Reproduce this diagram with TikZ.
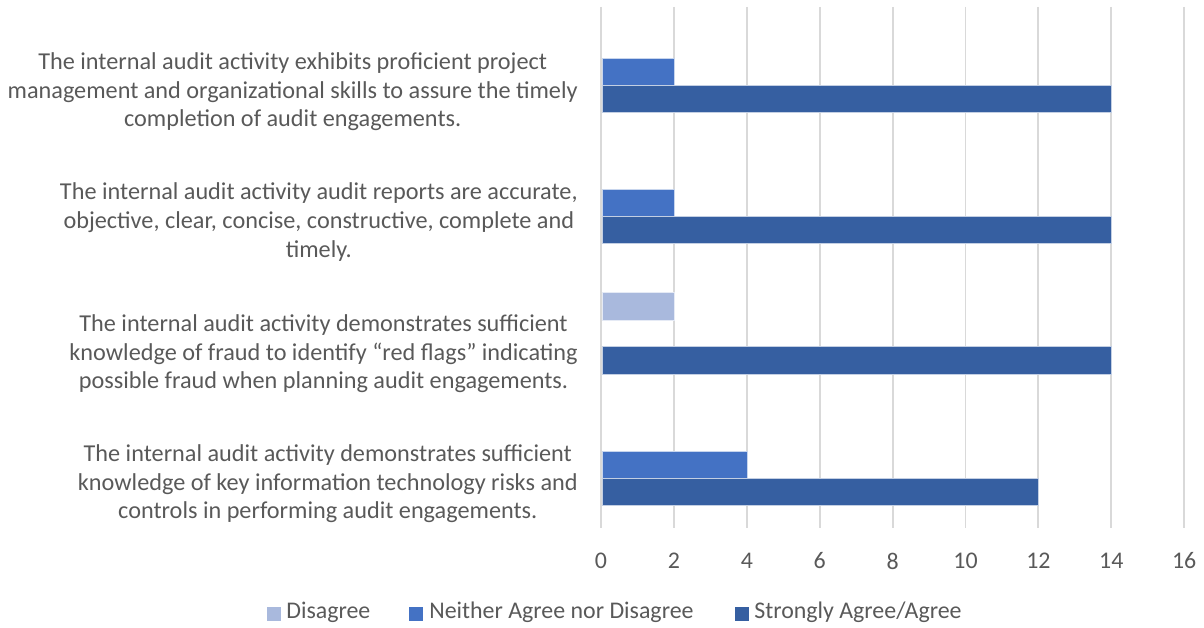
\documentclass[tikz,border=0pt]{standalone}
\usepackage{fontspec}
\setmainfont{Carlito}
\definecolor{txtgray}{HTML}{595959}
\definecolor{gridgray}{HTML}{D9D9D9}
\definecolor{disagreeblue}{HTML}{A9B9DD}
\definecolor{neitherblue}{HTML}{4472C4}
\definecolor{agreeblue}{HTML}{365FA1}
\begin{document}
\begin{tikzpicture}
		[	x=0.02cm, y=-0.02cm,
		grid/.style={draw=gridgray, line width=1.1pt},
		bar/.style={draw=white!70!#1, line width=0.4pt, fill=#1},
		tick/.style={text=txtgray, font=\fontsize{13.6}{16}\selectfont, inner sep=0pt},
		label/.style={text=txtgray, align=center, anchor=east, inner sep=0pt,
			font=\fontsize{13.8}{16.3}\selectfont},
		key/.style={fill=#1, minimum size=0.28cm, inner sep=0pt},
		keytext/.style={text=txtgray, anchor=west, inner sep=0pt, font=\fontsize{13.6}{16}\selectfont}
		]
		\useasboundingbox (0,0) rectangle (1204,628);

		% gridlines and tick values
		\foreach \v [count=\i from 0] in {0,2,...,16} {
			\draw[grid] (601+72.9*\i,7) -- (601+72.9*\i,528);
			\node[tick] (tick\v) at (601+72.9*\i,561) {\v};
		}

		% bars
		\draw[bar=neitherblue] (602,58) rectangle (674,85);
		\draw[bar=agreeblue] (602,85) rectangle (1111,112);

		\draw[bar=neitherblue] (602,189) rectangle (674,216);
		\draw[bar=agreeblue] (602,216) rectangle (1111,243);

		\draw[bar=disagreeblue] (602,292) rectangle (674,320);
		\draw[bar=agreeblue] (602,346) rectangle (1111,374);

		\draw[bar=neitherblue] (602,451) rectangle (747,478);
		\draw[bar=agreeblue] (602,478) rectangle (1038,505);

		% category labels
		\node[label] (q1) at (578,92) {The internal audit activity exhibits proficient project\\management and organizational skills to assure the timely\\completion of audit engagements.};
		\node[label] (q2) at (578,222) {The internal audit activity audit reports are accurate,\\objective, clear, concise, constructive, complete and\\timely.};
		\node[label] (q3) at (578,354) {The internal audit activity demonstrates sufficient\\knowledge of fraud to identify “red flags” indicating\\possible fraud when planning audit engagements.};
		\node[label] (q4) at (578,484) {The internal audit activity demonstrates sufficient\\knowledge of key information technology risks and\\controls in performing audit engagements.};

		% legend
		\node[key=disagreeblue] (k1) at (273.5,614) {};
		\node[keytext] (t1) at (286,612) {Disagree};
		\node[key=neitherblue] (k2) at (416,614) {};
		\node[keytext] (t2) at (429,612) {Neither Agree nor Disagree};
		\node[key=agreeblue] (k3) at (742,614) {};
		\node[keytext] (t3) at (754,612) {Strongly Agree/Agree};
	\end{tikzpicture}
\end{document}
